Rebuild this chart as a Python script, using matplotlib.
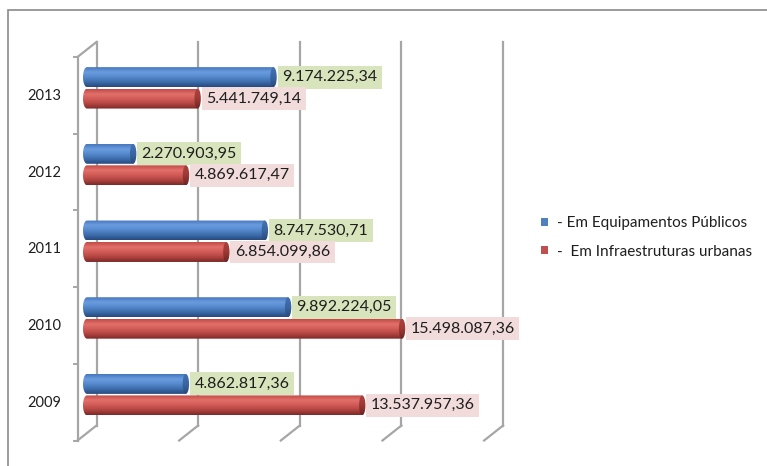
import numpy as np
import matplotlib
matplotlib.use("Agg")
import matplotlib.pyplot as plt
from matplotlib import transforms
from matplotlib.colors import LinearSegmentedColormap
from matplotlib.patches import Polygon, Ellipse, Rectangle, Patch

# Values (R$) per year
years = ["2009", "2010", "2011", "2012", "2013"]
equipamentos = [4862817.36, 9892224.05, 8747530.71, 2270903.95, 9174225.34]
infraestrutura = [13537957.36, 15498087.36, 6854099.86, 4869617.47, 5441749.14]
series_names = ["- Em Equipamentos Públicos", "-  Em Infraestruturas urbanas"]
x_ticks = [0, 5e6, 10e6, 15e6, 20e6]

plt.rcParams["font.family"] = ["Lato", "DejaVu Sans"]
TXT = "#1e1e1e"
GRID = "#a6a6a6"

fig = plt.figure(figsize=(7.67, 4.66), dpi=100)
ax = fig.add_axes([87 / 767, 33 / 466, 406.6 / 767, 383.5 / 466])
ax.set_xlim(0, 20e6)
ax.set_ylim(-0.5, 4.5)
ax.axis("off")

# pixel -> data conversion for the fake 3D depth
p0 = ax.transData.transform((0, 0))
p1 = ax.transData.transform((1e6, 1))
px_x = (p1[0] - p0[0]) / 1e6
px_y = p1[1] - p0[1]
DX, DY = 9.5, 7.5
dxd, dyd = DX / px_x, DY / px_y

back = transforms.offset_copy(ax.transData, fig, x=DX, y=DY, units="dots")
front = transforms.offset_copy(ax.transData, fig, x=-DX, y=-DY, units="dots")

# back wall gridlines + floor diagonals
for v in x_ticks:
    ax.plot([v, v], [-0.5, 4.5], color=GRID, lw=1.6, transform=back,
            clip_on=False, zorder=1)
    ax.plot([v - dxd, v + dxd], [-0.5 - dyd, -0.5 + dyd], color=GRID,
            lw=1.6, clip_on=False, zorder=1)

# left wall
ax.plot([0, 0], [-0.5, 4.5], color=GRID, lw=1.6, transform=front,
        clip_on=False, zorder=1)
ax.plot([-dxd, dxd], [4.5 - dyd, 4.5 + dyd], color=GRID, lw=1.6,
        clip_on=False, zorder=1)
for k in range(6):
    ax.plot([-4 / px_x, 0], [k - 0.5, k - 0.5], color=GRID, lw=1.4,
            transform=front, clip_on=False, zorder=1)

blue_body = LinearSegmentedColormap.from_list(
    "bb", ["#4678be", "#6b9ce0", "#5588cc", "#3d6cab", "#264a7e"])
blue_cap = LinearSegmentedColormap.from_list(
    "bc", ["#4272b0", "#3a67a2", "#284a7a"])
red_body = LinearSegmentedColormap.from_list(
    "rb", ["#c24b47", "#e2706b", "#d15a55", "#b14440", "#7a2a28"])
red_cap = LinearSegmentedColormap.from_list(
    "rc", ["#ad423e", "#9c3936", "#6e2422"])
grad = np.linspace(0, 1, 64).reshape(-1, 1)

h = 0.26
w = 8 / px_x  # cylinder end width


def cylinder(value, yc, body_cmap, cap_cmap):
    y0, y1 = yc - h / 2, yc + h / 2
    t = np.linspace(np.pi / 2, 3 * np.pi / 2, 40)
    verts = np.column_stack([w / 2 * np.cos(t), yc + h / 2 * np.sin(t)])
    verts = np.vstack([verts, [[value, y0], [value, y1]]])
    body = Polygon(verts, closed=True, transform=ax.transData)
    im = ax.imshow(grad, cmap=body_cmap, aspect="auto", origin="upper",
                   extent=(-w / 2, value, y0, y1), zorder=3)
    im.set_clip_path(body)
    im.set_clip_box(fig.bbox)
    cap = Ellipse((value, yc), w * 0.8, h, transform=ax.transData)
    im2 = ax.imshow(grad, cmap=cap_cmap, aspect="auto", origin="upper",
                    extent=(value - w / 2, value + w / 2, y0, y1), zorder=4)
    im2.set_clip_path(cap)
    im2.set_clip_box(fig.bbox)


def br(v):
    s = f"{v:,.2f}"
    return s.replace(",", "X").replace(".", ",").replace("X", ".")


for i, (e, r) in enumerate(zip(equipamentos, infraestrutura)):
    cylinder(e, i + 0.14, blue_body, blue_cap)
    cylinder(r, i - 0.14, red_body, red_cap)
    for v, yc, bg in [(e, i + 0.14, "#d8e4bc"), (r, i - 0.14, "#f2dcdb")]:
        ax.annotate(br(v), (v, yc), xytext=(4 + 4.5, 0),
                    textcoords="offset pixels", ha="left", va="center",
                    fontsize=11.5, color=TXT, zorder=6,
                    bbox=dict(boxstyle="square,pad=0.28", fc=bg, ec="none"))
    ax.text(0, i, years[i], ha="right", va="center", fontsize=10.5,
            color=TXT, transform=transforms.offset_copy(
                ax.transData, fig, x=-26, y=-8, units="dots"))

ax.set_xlim(0, 20e6)
ax.set_ylim(-0.5, 4.5)

handles = [Patch(fc="#4f81bd", ec="none"), Patch(fc="#c0504d", ec="none")]
fig.legend(handles, series_names, loc="center left",
           bbox_to_anchor=(541 / 767, 1 - 237.5 / 466), frameon=False,
           fontsize=11, handlelength=0.45, handleheight=0.45,
           handletextpad=0.6, labelspacing=0.95, borderpad=0,
           borderaxespad=0, labelcolor=TXT)

# outer chart frame
fig.patches.append(Rectangle((8 / 767, -0.1), 2, 1.1 - 10 / 466,
                             transform=fig.transFigure, fill=False,
                             ec="#8a8a8a", lw=1.2))

fig.savefig("out.png", dpi=100)
